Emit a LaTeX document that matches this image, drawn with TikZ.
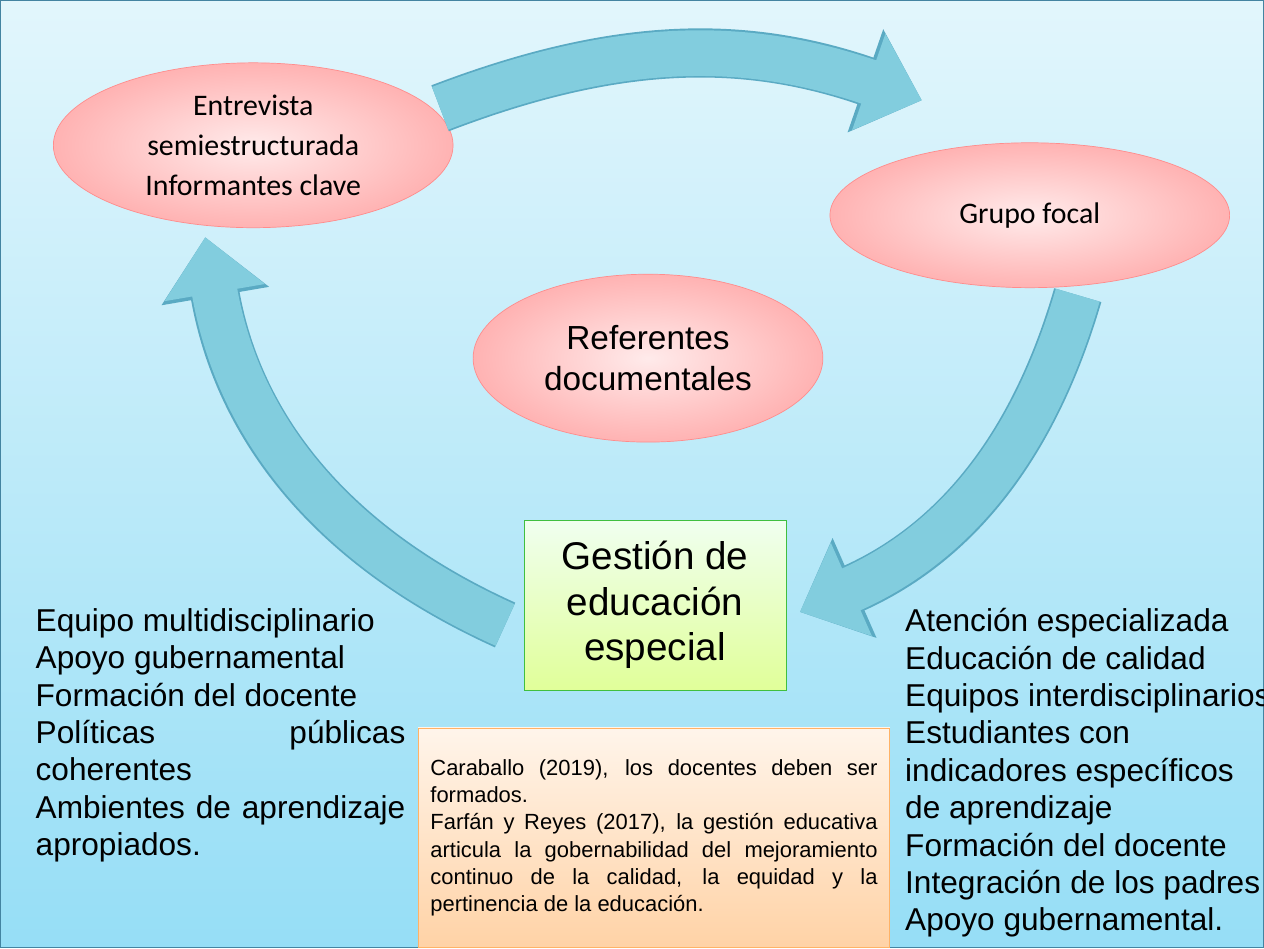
\documentclass[tikz,border=0pt]{standalone}
\usepackage{fontspec}
\setmainfont{Liberation Sans}
\newfontfamily\calfont{Carlito}
\usetikzlibrary{arrows.meta,shapes.geometric}
\definecolor{bgtop}{RGB}{226,246,252}
\definecolor{bgbot}{RGB}{150,222,246}
\definecolor{flow}{RGB}{130,205,222}
\definecolor{flowedge}{RGB}{90,170,195}
\hyphenpenalty=10000
\exhyphenpenalty=10000
\begin{document}
\begin{tikzpicture}[x=0.02cm,y=-0.02cm]
    % Define styles
    \tikzset{
      oval/.style={ellipse, draw=red!45, inner color=red!8, outer color=red!30, align=center, inner sep=0pt},
      flowarrow/.style={line width=26pt, draw=flow, -{Triangle[length=32pt,width=56pt]}},
      flowback/.style={line width=28pt, draw=flowedge, -{Triangle[length=34pt,width=60pt]}},
      list/.style={anchor=north west, align=left, font=\fontsize{18}{21.3}\selectfont}
    }
    % Background
    \shade[top color=bgtop, bottom color=bgbot, draw=cyan!60!black] (0,0) rectangle (1264,948);
    \useasboundingbox (0,0) rectangle (1264,948);

    % Main components
    \node [oval, minimum width=8cm, minimum height=3.3cm, font=\calfont\fontsize{17}{23}\selectfont] (entrevista) at (253,145) {Entrevista\\semiestructurada\\Informantes clave};
    \node [oval, minimum width=8cm, minimum height=2.9cm, font=\calfont\fontsize{17}{23}\selectfont] (focal) at (1030,215) {Grupo focal};
    \node [oval, minimum width=7cm, minimum height=3.36cm, font=\fontsize{19}{23}\selectfont] (referentes) at (648,358) {Referentes\\documentales};
    \node [rectangle, draw=green!50!gray, top color=green!6, bottom color=green!30!yellow!40, minimum width=5.24cm, minimum height=3.4cm, align=center, font=\fontsize{22}{26}\selectfont] (gestion) at (655,605) {Gestión de\\educación\\especial};

    % Cycle arrows
    \coordinate (t1) at (440,108);
    \coordinate (t2) at (922,100);
    \coordinate (r1) at (1078,295);
    \coordinate (r2) at (800,612);
    \coordinate (l1) at (505,625);
    \coordinate (l2) at (205,237);
    \draw [flowback] (t1) to[bend left=20] (t2);
    \draw [flowarrow] (t1) to[bend left=20] (t2);
    \draw [flowback] (r1) to[bend left=25] (r2);
    \draw [flowarrow] (r1) to[bend left=25] (r2);
    \draw [flowback] (l1) to[bend left=28] (l2);
    \draw [flowarrow] (l1) to[bend left=28] (l2);

    % Side lists
    \node [list, text width=7.4cm, align=justify, inner sep=0pt] (left) at (35,608) {Equipo multidisciplinario\\Apoyo gubernamental\\Formación del docente\\Políticas públicas coherentes\\Ambientes de aprendizaje apropiados.};
    \node [list, inner sep=0pt] (right) at (905,608) {Atención especializada\\Educación de calidad\\Equipos interdisciplinarios\\Estudiantes con\\indicadores específicos\\de aprendizaje\\Formación del docente\\Integración de los padres\\Apoyo gubernamental.};

    % Citation box
    \node [rectangle, draw=orange!60, top color=orange!8, bottom color=orange!35, minimum width=9.44cm, minimum height=4.4cm, text width=8.95cm, align=justify, font=\fontsize{12.5}{15.5}\selectfont] (citas) at (654,838) {Caraballo (2019), los docentes deben ser formados.\\Farfán y Reyes (2017), la gestión educativa articula la gobernabilidad del mejoramiento continuo de la calidad, la equidad y la pertinencia de la educación.};
\end{tikzpicture}
\end{document}
